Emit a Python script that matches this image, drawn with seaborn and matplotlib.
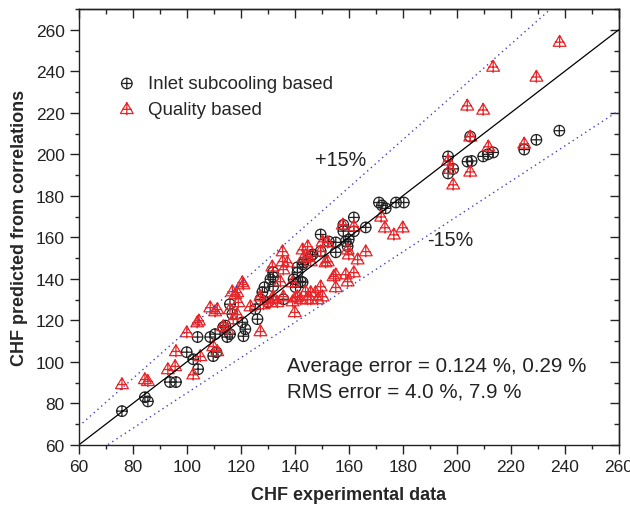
import numpy as np
import pandas as pd
import matplotlib
matplotlib.use('Agg')
import matplotlib.pyplot as plt
import seaborn as sns
from matplotlib.path import Path
from matplotlib.ticker import MultipleLocator

# Inlet subcooling based (Kreise)
inlet_x = [76, 84.5, 85.6, 93.8, 96, 100, 102.4, 104.2, 104, 108.7, 110.5, 109.8, 111,
           113.5, 115, 116, 121, 121.7, 114.3, 116.9, 120.6, 116, 125.4, 126.2, 128,
           127.3, 130, 132, 131, 132, 128.8, 135.8, 139.6, 140.3, 142.9, 141, 142.9,
           141, 143.3, 145.9, 146.6, 149.6, 149.6, 152.6, 155.2, 155.2, 158.9, 160,
           159.6, 158, 161.9, 158, 161.9, 166.3, 171.2, 172.3, 173.7, 177.5, 180.4,
           196.8, 196.8, 198.7, 204, 205.5, 205, 209.8, 211.5, 213.5, 225, 229.5, 238,
           142.2, 132]
inlet_y = [76.3, 83, 81, 90.3, 90.3, 104.7, 101.3, 96.5, 112, 112, 113.4, 102.8, 104.7,
           116.7, 112, 113.4, 112.4, 115.8, 117.5, 123, 119.1, 127.8, 125.4, 120.6, 133.6,
           130.2, 128.8, 143.2, 139.8, 136.4, 136, 130.2, 139.8, 136, 138.4, 143, 147,
           145.6, 148, 150.9, 151.8, 153.3, 161.4, 158, 152.8, 157.6, 158, 159,
           155.7, 163, 162.9, 166, 169.6, 164.8, 176.8, 175.4, 174, 176.8, 176.8,
           199, 190.8, 193, 196.5, 196.8, 208.6, 199, 200, 200.9, 202.3, 207, 211.4,
           138.8, 140.8]

# Quality based (Dreiecke)
quality_x = [76, 84.5, 85.6, 93, 95.7, 96, 102.4, 105, 100, 103.9, 104.5, 109.8, 111.3,
             108.7, 110.5, 111.3, 113.5, 115, 116, 117.2, 118.7, 119.1, 123.6, 127.3,
             116.9, 118, 118.7, 120.6, 121, 127.3, 128.4, 131, 132, 132, 133.6, 134.7,
             135.8, 139.2, 139.2, 140, 140.3, 141, 142.2, 144, 144.8, 145.9, 145.9,
             147.7, 148.5, 149.6, 150.3, 131.7, 135.8, 135.5, 137.3, 135.5, 142.9,
             143.3, 144.8, 145.9, 144.8, 149.6, 150.3, 152.2, 151.4, 152.2, 155.2,
             154.4, 155.2, 158.9, 159.6, 161.9, 163.3, 160, 159.6, 166.3, 157.8, 161.9,
             172, 173.4, 176.7, 180, 196.8, 197.5, 198.7, 205, 205, 211.7, 225, 203.9,
             209.8, 213.5, 229.5, 238.1]
quality_y = [89.3, 91.7, 90.8, 96.5, 98, 105.2, 94, 102.8, 114.3, 119.1, 120, 107.6, 105.2,
             126.3, 124.4, 125.4, 117.2, 115.8, 125.4, 120.6, 123, 128.8, 126.8, 114.8,
             134, 132.6, 133.6, 138.4, 137.4, 131.6, 127.8, 128.8, 130.2, 131.6, 128.8, 138.8,
             131.6, 129.2, 138.4, 124, 131.1, 131.6, 130.2, 134, 130.2, 133.6, 130.2,
             133.6, 130.2, 136.4, 131.6, 146, 144.6, 148.5, 148, 153.3, 154.2,
             150.4, 150.9, 148.5, 155.7, 153.3, 158, 157.6, 148, 148.5, 136,
             141.3, 142.2, 142.2, 138.8, 143.2, 149.4, 151.8, 154.2, 153.3, 166.2, 165.3,
             170, 164.8, 161.4, 164.8, 197, 193, 185.5, 191.7, 208.6, 203.8, 205.2, 223.5,
             221.5, 242.2, 237.4, 254.2]

df_inlet = pd.DataFrame({'x': inlet_x, 'y': inlet_y})
df_quality = pd.DataFrame({'x': quality_x, 'y': quality_y})

# Marker: Kreis mit Kreuz, Dreieck mit Kreuz
circ = Path.unit_circle()
cross = Path([(-1, 0), (1, 0), (0, -1), (0, 1)],
             [Path.MOVETO, Path.LINETO, Path.MOVETO, Path.LINETO])
oplus = Path.make_compound_path(circ, cross)

tri = Path([(0, 1), (-1, -0.7), (1, -0.7), (0, 1)],
           [Path.MOVETO, Path.LINETO, Path.LINETO, Path.CLOSEPOLY])
tcross = Path([(0, 1), (0, -0.95), (-0.75, -0.05), (0.75, -0.05)],
              [Path.MOVETO, Path.LINETO, Path.MOVETO, Path.LINETO])
triplus = Path.make_compound_path(tri, tcross)

sns.set_style('ticks')
plt.rcParams['font.family'] = ['Liberation Sans', 'DejaVu Sans']
plt.rcParams['axes.linewidth'] = 1.0

fig = plt.figure(figsize=(6.3, 5.06), dpi=100)
ax = fig.add_axes([0.125, 0.1186, 0.8571, 0.8616])

sns.scatterplot(data=df_inlet, x='x', y='y', marker=oplus, s=58, facecolor='none',
                edgecolor='#222222', linewidth=0.9, label='Inlet subcooling based', ax=ax)
sns.scatterplot(data=df_quality, x='x', y='y', marker=triplus, s=85, facecolor='none',
                edgecolor='#e8262a', linewidth=0.9, label='Quality based', ax=ax)

# Referenzlinien
xs = np.array([60, 260])
ax.plot(xs, xs, color='black', lw=0.9)
ax.plot(xs, 1.15 * xs, color='#4040c8', lw=1.0, ls=(0, (1, 2.6)))
ax.plot(xs, 0.85 * xs, color='#4040c8', lw=1.0, ls=(0, (1, 2.6)))

ax.set_xlim(60, 260)
ax.set_ylim(60, 270)
ax.xaxis.set_major_locator(MultipleLocator(20))
ax.xaxis.set_minor_locator(MultipleLocator(10))
ax.yaxis.set_minor_locator(MultipleLocator(10))
ax.set_yticks(np.arange(60, 261, 20))
ax.tick_params(which='both', direction='out', top=False, right=False, labelsize=12.5,
               colors='#222222', width=1.0)
ax.tick_params(which='major', length=6.5)
ax.tick_params(which='minor', length=3)

top = ax.secondary_xaxis('top')
top.xaxis.set_major_locator(MultipleLocator(20))
top.xaxis.set_minor_locator(MultipleLocator(10))
top.tick_params(which='both', direction='in', labeltop=False, width=1.0)
top.tick_params(which='major', length=6.5)
top.tick_params(which='minor', length=3.5)

right = ax.secondary_yaxis('right')
right.set_yticks(np.arange(60, 261, 20))
right.yaxis.set_minor_locator(MultipleLocator(10))
right.tick_params(which='both', direction='in', labelright=False, width=1.0)
right.tick_params(which='major', length=6.5)
right.tick_params(which='minor', length=3.5)

for s in ax.spines.values():
    s.set_color('#222222')

# Beschriftung
ax.set_xlabel('CHF experimental data', fontsize=13, fontweight='bold', labelpad=9)
ax.set_ylabel('CHF predicted from correlations', fontsize=13, fontweight='bold', labelpad=6)

ax.text(147.5, 197.5, '+15%', fontsize=14.2, va='center', color='#222222')
ax.text(189, 159, '-15%', fontsize=14.2, va='center', color='#222222')
ax.text(137.3, 98.5, 'Average error = 0.124 %, 0.29 %', fontsize=14.8, va='center',
        color='#222222')
ax.text(137.3, 86, 'RMS error = 4.0 %, 7.9 %', fontsize=14.8, va='center', color='#222222')

ax.legend(loc='upper left', bbox_to_anchor=(0.058, 0.865), frameon=False, fontsize=13.4,
          handlelength=1.0, handletextpad=0.65, labelspacing=0.46, borderaxespad=0)

plt.savefig('out.png', dpi=100)
